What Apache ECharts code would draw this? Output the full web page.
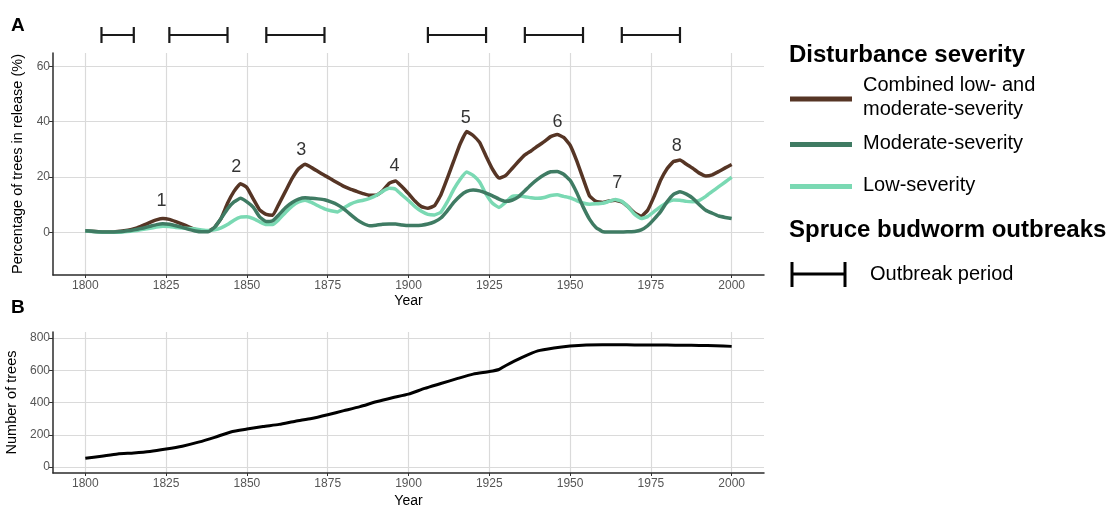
<!DOCTYPE html>
<html>
<head>
<meta charset="utf-8">
<script src="https://cdn.jsdelivr.net/npm/echarts@6/dist/echarts.min.js"></script>
<style>
  html, body { margin: 0; padding: 0; background: #fff; }
  #chart { width: 1115px; height: 508px; }
</style>
</head>
<body>
<div id="chart"></div>
<script>
// ---- Panel A: percentage of trees in release, by disturbance severity ----
const releaseYears = [
  1800, 1802, 1804, 1806, 1808, 1810, 1812, 1814, 1816, 1818,
  1820, 1822, 1824, 1826, 1828, 1830, 1832, 1834, 1836, 1838,
  1840, 1842, 1844, 1846, 1848, 1850, 1852, 1854, 1856, 1858,
  1860, 1862, 1864, 1866, 1868, 1870, 1872, 1874, 1876, 1878,
  1880, 1882, 1884, 1886, 1888, 1890, 1892, 1894, 1896, 1898,
  1900, 1902, 1904, 1906, 1908, 1910, 1912, 1914, 1916, 1918,
  1920, 1922, 1924, 1926, 1928, 1930, 1932, 1934, 1936, 1938,
  1940, 1942, 1944, 1946, 1948, 1950, 1952, 1954, 1956, 1958,
  1960, 1962, 1964, 1966, 1968, 1970, 1972, 1974, 1976, 1978,
  1980, 1982, 1984, 1986, 1988, 1990, 1992, 1994, 1996, 1998,
  2000
];

const combinedPct = [
  0.6, 0.4, 0.2, 0.1, 0.1, 0.3, 0.6, 1.0, 1.6, 2.6,
  3.6, 4.5, 5.0, 4.7, 3.9, 3.0, 2.0, 1.1, 0.6, 0.5,
  1.8, 5.0, 10.5, 14.8, 17.6, 16.2, 12.0, 8.0, 6.5, 6.2,
  10.5, 15.0, 19.5, 23.0, 24.6, 23.4, 22.0, 20.6, 19.3, 17.9,
  16.6, 15.6, 14.8, 14.0, 13.4, 13.4, 15.0, 17.7, 18.6, 16.5,
  14.0, 11.3, 9.3, 8.7, 9.6, 13.5, 19.5, 25.8, 32.0, 36.4,
  35.0, 32.5, 27.5, 22.8, 19.6, 20.5, 23.0, 25.6, 28.0, 29.5,
  31.2, 32.8, 34.6, 35.4, 34.3, 31.5, 26.0, 19.5, 13.2, 11.2,
  10.8, 11.3, 11.6, 11.0, 9.2, 7.0, 5.8, 8.0, 13.0, 18.8,
  23.0, 25.6, 26.1, 24.6, 23.1, 21.4, 20.4, 20.8, 22.0, 23.3,
  24.5
];

const moderatePct = [
  0.6, 0.4, 0.2, 0.1, 0.1, 0.2, 0.4, 0.7, 1.1, 1.6,
  2.2, 2.8, 3.1, 2.9, 2.4, 1.8, 1.1, 0.5, 0.2, 0.2,
  1.8, 5.0, 8.5, 11.0, 12.3, 11.0, 9.0, 5.5, 3.9, 4.2,
  6.5, 9.0, 10.8, 12.0, 12.5, 12.3, 12.1, 11.8, 11.0, 10.0,
  8.5, 6.5, 4.6, 3.2, 2.4, 2.6, 2.9, 3.0, 3.0, 2.7,
  2.5, 2.5, 2.6, 3.0, 3.8, 5.2, 7.8, 10.8, 13.2, 14.8,
  15.3, 15.0, 14.2, 13.2, 12.0, 11.2, 11.6, 12.8, 15.0, 17.3,
  19.2, 20.8, 21.9, 22.0, 21.0, 18.8, 14.5, 9.3, 4.8, 1.8,
  0.3, 0.1, 0.1, 0.1, 0.2, 0.3, 0.9, 2.4, 4.8, 7.5,
  11.0, 13.7, 14.7, 13.8, 12.3, 10.0, 8.0, 6.9, 5.9, 5.4,
  5.0
];

const lowPct = [
  0.5, 0.3, 0.1, 0.0, 0.0, 0.0, 0.2, 0.4, 0.7, 1.1,
  1.5, 1.9, 2.2, 2.1, 1.8, 1.6, 1.4, 1.2, 0.9, 0.7,
  0.9, 1.6, 2.8, 4.4, 5.5, 5.6, 5.0, 3.8, 2.8, 2.8,
  4.8, 7.3, 9.5, 11.0, 11.6, 10.8, 9.6, 8.5, 7.8, 7.4,
  8.8, 10.2, 11.1, 11.6, 12.3, 13.3, 14.8, 15.9, 15.6, 13.5,
  11.5, 9.3, 7.6, 6.5, 6.3, 7.3, 11.0, 15.5, 19.2, 21.8,
  20.6, 18.2, 13.8, 10.5, 9.0, 10.8, 12.9, 13.2, 12.9, 12.5,
  12.3, 12.6, 13.3, 13.6, 13.0, 12.5, 11.5, 10.6, 10.2, 10.3,
  10.5, 11.2, 11.9, 11.2, 9.2, 6.5, 5.0, 5.7, 7.5, 9.3,
  10.8, 11.7, 11.6, 11.2, 11.1, 11.6, 13.0, 14.8, 16.5, 18.2,
  19.9
];

// Numbered release peaks (label text and where it sits)
const peakNames = ['1', '2', '3', '4', '5', '6', '7', '8'];
const peakYears = [1823.6, 1846.7, 1866.8, 1895.7, 1917.7, 1946.1, 1964.6, 1983.0];
const peakLabelLevels = [11.3, 23.5, 29.7, 24.1, 41.2, 40.0, 17.9, 31.3];

// Spruce budworm outbreak periods
const outbreakStart = [1805, 1826, 1856, 1906, 1936, 1966];
const outbreakEnd   = [1815, 1844, 1874, 1924, 1954, 1984];

// ---- Panel B: number of trees in the sample ----
const treeYears = [
  1800, 1805, 1810, 1815, 1820, 1825, 1830, 1835, 1840, 1845,
  1850, 1855, 1860, 1865, 1870, 1875, 1880, 1885, 1890, 1895,
  1900, 1905, 1910, 1915, 1920, 1925, 1928, 1930, 1935, 1940,
  1945, 1950, 1955, 1960, 1965, 1970, 1975, 1980, 1985, 1990,
  1995, 2000
];
const treeCounts = [
  55, 68, 82, 88, 97, 112, 130, 155, 185, 218,
  236, 252, 265, 285, 302, 325, 350, 375, 405, 430,
  452, 488, 518, 548, 576, 592, 605, 628, 678, 720,
  738, 750, 757, 758, 758, 757, 756, 756, 755, 754,
  752, 748
];

// Axis ticks
const yearTicks = [1800, 1825, 1850, 1875, 1900, 1925, 1950, 1975, 2000];
const pctTicks = [0, 20, 40, 60];
const treeTicks = [0, 200, 400, 600, 800];

const FONT = '"Liberation Sans", Arial, Helvetica, sans-serif';
const COLORS = { combined: '#563525', moderate: '#3f7b63', low: '#7ad9b3' };
const TICK_TEXT = { fontFamily: FONT, fontSize: 12, color: '#555' };

const pairs = (xs, ys) => xs.map((x, i) => [x, ys[i]]);
const plain = v => String(v);

const gridLeft = 53, gridWidth = 711;

function yearAxis(gridIndex, nameGap) {
  return {
    type: 'value', gridIndex, min: 1790, max: 2010,
    name: 'Year', nameLocation: 'middle', nameGap,
    nameTextStyle: { fontFamily: FONT, fontSize: 14, color: '#000' },
    axisLine: { show: true, onZero: false, lineStyle: { color: '#2b2b2b', width: 1.5 } },
    axisTick: { show: true, length: 3, customValues: yearTicks, lineStyle: { color: '#333' } },
    axisLabel: Object.assign({ customValues: yearTicks, margin: 5, formatter: plain }, TICK_TEXT),
    splitLine: { show: true, lineStyle: { color: '#dadada', width: 1.2 } }
  };
}

function valueAxis(gridIndex, min, max, ticks, name) {
  return {
    type: 'value', gridIndex, min, max,
    name, nameLocation: 'middle', nameGap: 28,
    nameTextStyle: { fontFamily: FONT, fontSize: 14.5, color: '#000' },
    axisLine: { show: true, onZero: false, lineStyle: { color: '#2b2b2b', width: 1.5 } },
    axisTick: { show: true, length: 4, customValues: ticks, lineStyle: { color: '#333' } },
    axisLabel: Object.assign({ customValues: ticks, margin: 3, formatter: plain }, TICK_TEXT),
    splitLine: { show: true, lineStyle: { color: '#dadada', width: 1.2 } }
  };
}

const chart = echarts.init(document.getElementById('chart'), null, { renderer: 'canvas' });

chart.setOption({
  animation: false,
  backgroundColor: '#fff',
  textStyle: { fontFamily: FONT },
  grid: [
    { left: gridLeft, width: gridWidth, top: 53, height: 222, outerBoundsMode: 'none' },
    { left: gridLeft, width: gridWidth, top: 332, height: 141, outerBoundsMode: 'none' },
    { left: gridLeft, width: gridWidth, top: 27, height: 16, outerBoundsMode: 'none' }
  ],
  xAxis: [
    yearAxis(0, 19),
    yearAxis(1, 21),
    { type: 'value', gridIndex: 2, min: 1790, max: 2010, show: false }
  ],
  yAxis: [
    valueAxis(0, -15.4, 64.8, pctTicks, 'Percentage of trees in release (%)'),
    valueAxis(1, -36, 837, treeTicks, 'Number of trees'),
    { type: 'value', gridIndex: 2, min: 0, max: 1, show: false }
  ],
  series: [
    {
      name: 'Combined low- and moderate-severity', type: 'line',
      xAxisIndex: 0, yAxisIndex: 0, data: pairs(releaseYears, combinedPct),
      showSymbol: false, smooth: 0.12, z: 3,
      lineStyle: { color: COLORS.combined, width: 3.5, join: 'round' }
    },
    {
      name: 'Low-severity', type: 'line',
      xAxisIndex: 0, yAxisIndex: 0, data: pairs(releaseYears, lowPct),
      showSymbol: false, smooth: 0.12, z: 4,
      lineStyle: { color: COLORS.low, width: 3.5, join: 'round' }
    },
    {
      name: 'Moderate-severity', type: 'line',
      xAxisIndex: 0, yAxisIndex: 0, data: pairs(releaseYears, moderatePct),
      showSymbol: false, smooth: 0.12, z: 5,
      lineStyle: { color: COLORS.moderate, width: 3.5, join: 'round' }
    },
    {
      name: 'Peaks', type: 'scatter', xAxisIndex: 0, yAxisIndex: 0,
      data: peakYears.map((y, i) => [y, peakLabelLevels[i], peakNames[i]]),
      symbolSize: 0, z: 6, silent: true,
      label: {
        show: true, position: 'inside', formatter: p => p.data[2],
        fontFamily: FONT, fontSize: 18, color: '#000'
      }
    },
    {
      name: 'Outbreaks', type: 'custom', xAxisIndex: 2, yAxisIndex: 2,
      data: outbreakStart.map((s, i) => [s, outbreakEnd[i]]),
      encode: { x: [0, 1] },
      clip: false,
      renderItem: (params, api) => {
        const a = api.coord([api.value(0), 0.5]);
        const b = api.coord([api.value(1), 0.5]);
        const h = 8;
        const st = { stroke: '#1a1a1a', lineWidth: 2.2 };
        return {
          type: 'group',
          children: [
            { type: 'line', shape: { x1: a[0], y1: a[1], x2: b[0], y2: b[1] }, style: st },
            { type: 'line', shape: { x1: a[0], y1: a[1] - h, x2: a[0], y2: a[1] + h }, style: st },
            { type: 'line', shape: { x1: b[0], y1: b[1] - h, x2: b[0], y2: b[1] + h }, style: st }
          ]
        };
      }
    },
    {
      name: 'Number of trees', type: 'line',
      xAxisIndex: 1, yAxisIndex: 1, data: pairs(treeYears, treeCounts),
      showSymbol: false, smooth: 0.2, z: 3,
      lineStyle: { color: '#000', width: 3, join: 'round' }
    }
  ],
  graphic: [
    // panel tags
    { type: 'text', left: 11, top: 16, style: { text: 'A', font: 'bold 19px ' + FONT, fill: '#000' } },
    { type: 'text', left: 11, top: 298, style: { text: 'B', font: 'bold 19px ' + FONT, fill: '#000' } },
    // legend: disturbance severity
    { type: 'text', x: 789, y: 55, style: { text: 'Disturbance severity', font: 'bold 24px ' + FONT, fill: '#000', verticalAlign: 'middle' } },
    { type: 'line', shape: { x1: 790, y1: 99, x2: 852, y2: 99 }, style: { stroke: COLORS.combined, lineWidth: 5 } },
    { type: 'text', x: 863, y: 97, style: { text: 'Combined low- and\nmoderate-severity', font: '20px ' + FONT, lineHeight: 24, fill: '#000', verticalAlign: 'middle' } },
    { type: 'line', shape: { x1: 790, y1: 144.5, x2: 852, y2: 144.5 }, style: { stroke: COLORS.moderate, lineWidth: 5 } },
    { type: 'text', x: 863, y: 143.5, style: { text: 'Moderate-severity', font: '20px ' + FONT, fill: '#000', verticalAlign: 'middle' } },
    { type: 'line', shape: { x1: 790, y1: 186.5, x2: 852, y2: 186.5 }, style: { stroke: COLORS.low, lineWidth: 5 } },
    { type: 'text', x: 863, y: 185, style: { text: 'Low-severity', font: '20px ' + FONT, fill: '#000', verticalAlign: 'middle' } },
    // legend: outbreaks
    { type: 'text', x: 789, y: 230, style: { text: 'Spruce budworm outbreaks', font: 'bold 24px ' + FONT, fill: '#000', verticalAlign: 'middle' } },
    { type: 'line', shape: { x1: 792, y1: 274, x2: 845, y2: 274 }, style: { stroke: '#000', lineWidth: 3 } },
    { type: 'line', shape: { x1: 792, y1: 262, x2: 792, y2: 287 }, style: { stroke: '#000', lineWidth: 3 } },
    { type: 'line', shape: { x1: 845, y1: 262, x2: 845, y2: 287 }, style: { stroke: '#000', lineWidth: 3 } },
    { type: 'text', x: 870, y: 274, style: { text: 'Outbreak period', font: '20px ' + FONT, fill: '#000', verticalAlign: 'middle' } }
  ]
});
</script>
</body>
</html>
